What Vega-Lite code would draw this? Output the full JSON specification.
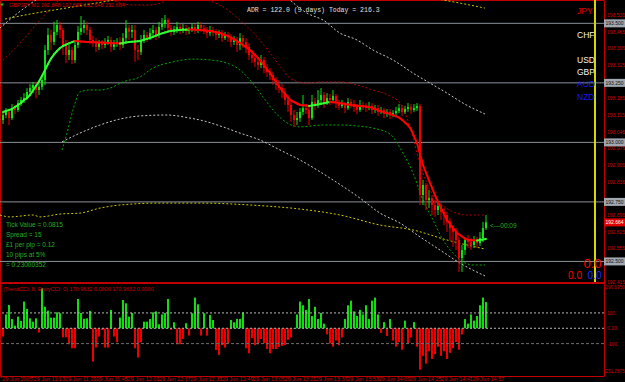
{
"$schema":"https://vega.github.io/schema/vega-lite/v6.json",
"width":604,"height":376,
"autosize":{"type":"none"},
"padding":{"left":0,"top":0,"right":21,"bottom":6},
"background":"#000000",
"config":{"view":{"stroke":"#c00000","strokeWidth":1},"axis":{"grid":false}},
"datasets":{
"bars":[
{"i":0,"o":193.094,"h":193.128,"l":193.077,"c":193.115,"m":193.1276,"k":-54},
{"i":1,"o":193.115,"h":193.144,"l":193.102,"c":193.128,"m":193.1318,"k":90},
{"i":2,"o":193.128,"h":193.136,"l":193.073,"c":193.102,"m":193.136,"k":152},
{"i":3,"o":193.102,"h":193.161,"l":193.094,"c":193.144,"m":193.1402,"k":60},
{"i":4,"o":193.144,"h":193.157,"l":193.119,"c":193.136,"m":193.1486,"k":17},
{"i":5,"o":193.136,"h":193.178,"l":193.128,"c":193.165,"m":193.157,"k":76},
{"i":6,"o":193.165,"h":193.191,"l":193.153,"c":193.178,"m":193.1654,"k":48},
{"i":7,"o":193.178,"h":193.207,"l":193.165,"c":193.186,"m":193.178,"k":174},
{"i":8,"o":193.186,"h":193.228,"l":193.178,"c":193.212,"m":193.1864,"k":126},
{"i":9,"o":193.212,"h":193.245,"l":193.199,"c":193.228,"m":193.199,"k":65},
{"i":10,"o":193.228,"h":193.254,"l":193.207,"c":193.241,"m":193.2179,"k":43},
{"i":11,"o":193.241,"h":193.254,"l":193.186,"c":193.220,"m":193.2368,"k":65},
{"i":12,"o":193.220,"h":193.245,"l":193.199,"c":193.233,"m":193.2557,"k":-28},
{"i":13,"o":193.233,"h":193.283,"l":193.220,"c":193.262,"m":193.2788,"k":260},
{"i":14,"o":193.262,"h":193.409,"l":193.241,"c":193.388,"m":193.304,"k":140},
{"i":15,"o":193.388,"h":193.480,"l":193.367,"c":193.451,"m":193.3292,"k":115},
{"i":16,"o":193.451,"h":193.472,"l":193.388,"c":193.422,"m":193.3519,"k":69},
{"i":17,"o":193.422,"h":193.506,"l":193.409,"c":193.464,"m":193.3695,"k":69},
{"i":18,"o":193.464,"h":193.514,"l":193.451,"c":193.493,"m":193.3838,"k":104},
{"i":19,"o":193.493,"h":193.506,"l":193.438,"c":193.472,"m":193.3964,"k":98},
{"i":20,"o":193.472,"h":193.480,"l":193.367,"c":193.409,"m":193.4048,"k":-59},
{"i":21,"o":193.409,"h":193.430,"l":193.333,"c":193.367,"m":193.4107,"k":-59},
{"i":22,"o":193.367,"h":193.409,"l":193.346,"c":193.388,"m":193.4157,"k":-104},
{"i":23,"o":193.388,"h":193.401,"l":193.329,"c":193.346,"m":193.4208,"k":-130},
{"i":24,"o":193.346,"h":193.430,"l":193.333,"c":193.409,"m":193.4258,"k":-130},
{"i":25,"o":193.409,"h":193.489,"l":193.396,"c":193.464,"m":193.425,"k":191},
{"i":26,"o":193.464,"h":193.531,"l":193.451,"c":193.480,"m":193.4237,"k":100},
{"i":27,"o":193.480,"h":193.514,"l":193.459,"c":193.493,"m":193.4229,"k":62},
{"i":28,"o":193.493,"h":193.506,"l":193.451,"c":193.472,"m":193.422,"k":65},
{"i":29,"o":193.472,"h":193.485,"l":193.413,"c":193.430,"m":193.4216,"k":113},
{"i":30,"o":193.430,"h":193.447,"l":193.401,"c":193.422,"m":193.4208,"k":-217},
{"i":31,"o":193.422,"h":193.438,"l":193.380,"c":193.401,"m":193.4203,"k":-126},
{"i":32,"o":193.401,"h":193.430,"l":193.388,"c":193.417,"m":193.4195,"k":-54},
{"i":33,"o":193.417,"h":193.430,"l":193.392,"c":193.409,"m":193.4191,"k":-11},
{"i":34,"o":193.409,"h":193.438,"l":193.396,"c":193.422,"m":193.4182,"k":-126},
{"i":35,"o":193.422,"h":193.447,"l":193.409,"c":193.430,"m":193.4178,"k":-126},
{"i":36,"o":193.430,"h":193.443,"l":193.380,"c":193.401,"m":193.4174,"k":119},
{"i":37,"o":193.401,"h":193.430,"l":193.388,"c":193.413,"m":193.4166,"k":-54},
{"i":38,"o":193.413,"h":193.438,"l":193.401,"c":193.422,"m":193.4161,"k":-91},
{"i":39,"o":193.422,"h":193.443,"l":193.388,"c":193.409,"m":193.4153,"k":70},
{"i":40,"o":193.409,"h":193.459,"l":193.396,"c":193.438,"m":193.4174,"k":184},
{"i":41,"o":193.438,"h":193.514,"l":193.422,"c":193.480,"m":193.4191,"k":163},
{"i":42,"o":193.480,"h":193.493,"l":193.430,"c":193.464,"m":193.4212,"k":76},
{"i":43,"o":193.464,"h":193.493,"l":193.438,"c":193.472,"m":193.4224,"k":100},
{"i":44,"o":193.472,"h":193.493,"l":193.338,"c":193.388,"m":193.4237,"k":-130},
{"i":45,"o":193.388,"h":193.409,"l":193.346,"c":193.380,"m":193.425,"k":-191},
{"i":46,"o":193.380,"h":193.451,"l":193.367,"c":193.430,"m":193.4271,"k":-91},
{"i":47,"o":193.430,"h":193.472,"l":193.417,"c":193.451,"m":193.4308,"k":43},
{"i":48,"o":193.451,"h":193.464,"l":193.422,"c":193.438,"m":193.4346,"k":43},
{"i":49,"o":193.438,"h":193.480,"l":193.430,"c":193.459,"m":193.4384,"k":60},
{"i":50,"o":193.459,"h":193.493,"l":193.443,"c":193.472,"m":193.4434,"k":104},
{"i":51,"o":193.472,"h":193.485,"l":193.430,"c":193.451,"m":193.4485,"k":110},
{"i":52,"o":193.451,"h":193.506,"l":193.438,"c":193.485,"m":193.4535,"k":26},
{"i":53,"o":193.485,"h":193.522,"l":193.472,"c":193.497,"m":193.4577,"k":90},
{"i":54,"o":193.497,"h":193.535,"l":193.480,"c":193.514,"m":193.4615,"k":100},
{"i":55,"o":193.514,"h":193.522,"l":193.464,"c":193.480,"m":193.4653,"k":191},
{"i":56,"o":193.480,"h":193.493,"l":193.447,"c":193.464,"m":193.4682,"k":-11},
{"i":57,"o":193.464,"h":193.489,"l":193.451,"c":193.472,"m":193.4695,"k":39},
{"i":58,"o":193.472,"h":193.506,"l":193.459,"c":193.485,"m":193.4707,"k":-104},
{"i":59,"o":193.485,"h":193.497,"l":193.455,"c":193.472,"m":193.472,"k":-104},
{"i":60,"o":193.472,"h":193.497,"l":193.459,"c":193.480,"m":193.4726,"k":-69},
{"i":61,"o":193.480,"h":193.493,"l":193.451,"c":193.468,"m":193.4733,"k":33},
{"i":62,"o":193.468,"h":193.485,"l":193.455,"c":193.472,"m":193.4739,"k":-48},
{"i":63,"o":193.472,"h":193.501,"l":193.464,"c":193.485,"m":193.4737,"k":98},
{"i":64,"o":193.485,"h":193.497,"l":193.455,"c":193.472,"m":193.473,"k":200},
{"i":65,"o":193.472,"h":193.506,"l":193.459,"c":193.493,"m":193.4724,"k":156},
{"i":66,"o":193.493,"h":193.506,"l":193.464,"c":193.480,"m":193.4716,"k":-48},
{"i":67,"o":193.480,"h":193.493,"l":193.455,"c":193.472,"m":193.4703,"k":98},
{"i":68,"o":193.472,"h":193.485,"l":193.438,"c":193.459,"m":193.4691,"k":-48},
{"i":69,"o":193.459,"h":193.489,"l":193.447,"c":193.472,"m":193.4678,"k":87},
{"i":70,"o":193.472,"h":193.485,"l":193.447,"c":193.464,"m":193.4653,"k":54},
{"i":71,"o":193.464,"h":193.476,"l":193.430,"c":193.451,"m":193.4628,"k":-141},
{"i":72,"o":193.451,"h":193.472,"l":193.438,"c":193.459,"m":193.4602,"k":-174},
{"i":73,"o":193.459,"h":193.472,"l":193.422,"c":193.438,"m":193.456,"k":-110},
{"i":74,"o":193.438,"h":193.464,"l":193.430,"c":193.451,"m":193.451,"k":-126},
{"i":75,"o":193.451,"h":193.464,"l":193.422,"c":193.443,"m":193.446,"k":-100},
{"i":76,"o":193.443,"h":193.455,"l":193.401,"c":193.422,"m":193.4401,"k":54},
{"i":77,"o":193.422,"h":193.447,"l":193.409,"c":193.430,"m":193.4325,"k":39},
{"i":78,"o":193.430,"h":193.443,"l":193.380,"c":193.409,"m":193.425,"k":61},
{"i":79,"o":193.409,"h":193.459,"l":193.388,"c":193.438,"m":193.4174,"k":61},
{"i":80,"o":193.438,"h":193.451,"l":193.396,"c":193.422,"m":193.4086,"k":104},
{"i":81,"o":193.422,"h":193.438,"l":193.375,"c":193.401,"m":193.3998,"k":-130},
{"i":82,"o":193.401,"h":193.417,"l":193.346,"c":193.367,"m":193.3909,"k":-163},
{"i":83,"o":193.367,"h":193.388,"l":193.333,"c":193.354,"m":193.3796,"k":-65},
{"i":84,"o":193.354,"h":193.375,"l":193.317,"c":193.338,"m":193.367,"k":-110},
{"i":85,"o":193.338,"h":193.359,"l":193.304,"c":193.325,"m":193.3544,"k":-104},
{"i":86,"o":193.325,"h":193.367,"l":193.312,"c":193.346,"m":193.3405,"k":-70},
{"i":87,"o":193.346,"h":193.359,"l":193.291,"c":193.312,"m":193.3242,"k":-98},
{"i":88,"o":193.312,"h":193.329,"l":193.275,"c":193.296,"m":193.3078,"k":-135},
{"i":89,"o":193.296,"h":193.312,"l":193.262,"c":193.283,"m":193.2914,"k":-163},
{"i":90,"o":193.283,"h":193.296,"l":193.241,"c":193.262,"m":193.2725,"k":-135},
{"i":91,"o":193.262,"h":193.275,"l":193.220,"c":193.241,"m":193.2536,"k":-135},
{"i":92,"o":193.241,"h":193.262,"l":193.207,"c":193.228,"m":193.2347,"k":-122},
{"i":93,"o":193.228,"h":193.245,"l":193.186,"c":193.212,"m":193.2183,"k":-115},
{"i":94,"o":193.212,"h":193.228,"l":193.157,"c":193.178,"m":193.2032,"k":-110},
{"i":95,"o":193.178,"h":193.199,"l":193.128,"c":193.157,"m":193.1881,"k":-76},
{"i":96,"o":193.157,"h":193.170,"l":193.086,"c":193.115,"m":193.1759,"k":-60},
{"i":97,"o":193.115,"h":193.136,"l":193.065,"c":193.094,"m":193.1696,"k":-5},
{"i":98,"o":193.094,"h":193.128,"l":193.073,"c":193.102,"m":193.1633,"k":90},
{"i":99,"o":193.102,"h":193.144,"l":193.086,"c":193.128,"m":193.157,"k":174},
{"i":100,"o":193.128,"h":193.199,"l":193.115,"c":193.144,"m":193.1557,"k":150},
{"i":101,"o":193.144,"h":193.161,"l":193.119,"c":193.136,"m":193.1545,"k":120},
{"i":102,"o":193.136,"h":193.157,"l":193.073,"c":193.102,"m":193.1532,"k":190},
{"i":103,"o":193.102,"h":193.199,"l":193.094,"c":193.170,"m":193.1545,"k":80},
{"i":104,"o":193.170,"h":193.186,"l":193.136,"c":193.157,"m":193.157,"k":140},
{"i":105,"o":193.157,"h":193.220,"l":193.144,"c":193.178,"m":193.1595,"k":60},
{"i":106,"o":193.178,"h":193.228,"l":193.165,"c":193.199,"m":193.162,"k":100},
{"i":107,"o":193.199,"h":193.212,"l":193.144,"c":193.170,"m":193.1646,"k":30},
{"i":108,"o":193.170,"h":193.207,"l":193.157,"c":193.186,"m":193.1671,"k":-40},
{"i":109,"o":193.186,"h":193.203,"l":193.157,"c":193.178,"m":193.1696,"k":-100},
{"i":110,"o":193.178,"h":193.220,"l":193.170,"c":193.195,"m":193.1683,"k":-120},
{"i":111,"o":193.195,"h":193.203,"l":193.144,"c":193.165,"m":193.1671,"k":-80},
{"i":112,"o":193.165,"h":193.178,"l":193.136,"c":193.153,"m":193.1658,"k":-110},
{"i":113,"o":193.153,"h":193.178,"l":193.144,"c":193.161,"m":193.1637,"k":-60},
{"i":114,"o":193.161,"h":193.170,"l":193.123,"c":193.144,"m":193.1612,"k":60},
{"i":115,"o":193.144,"h":193.186,"l":193.136,"c":193.170,"m":193.1587,"k":150},
{"i":116,"o":193.170,"h":193.182,"l":193.144,"c":193.161,"m":193.1566,"k":180},
{"i":117,"o":193.161,"h":193.178,"l":193.128,"c":193.149,"m":193.1553,"k":110},
{"i":118,"o":193.149,"h":193.161,"l":193.119,"c":193.136,"m":193.1541,"k":80},
{"i":119,"o":193.136,"h":193.178,"l":193.128,"c":193.157,"m":193.1528,"k":120},
{"i":120,"o":193.157,"h":193.170,"l":193.136,"c":193.149,"m":193.1515,"k":90},
{"i":121,"o":193.149,"h":193.165,"l":193.128,"c":193.144,"m":193.1503,"k":150},
{"i":122,"o":193.144,"h":193.170,"l":193.136,"c":193.153,"m":193.149,"k":60},
{"i":123,"o":193.153,"h":193.165,"l":193.119,"c":193.136,"m":193.1452,"k":180},
{"i":124,"o":193.136,"h":193.157,"l":193.123,"c":193.144,"m":193.1402,"k":200},
{"i":125,"o":193.144,"h":193.157,"l":193.111,"c":193.128,"m":193.1352,"k":90},
{"i":126,"o":193.128,"h":193.149,"l":193.119,"c":193.136,"m":193.1305,"k":-30},
{"i":127,"o":193.136,"h":193.144,"l":193.102,"c":193.119,"m":193.1268,"k":40},
{"i":128,"o":193.119,"h":193.140,"l":193.107,"c":193.128,"m":193.123,"k":-50},
{"i":129,"o":193.128,"h":193.140,"l":193.098,"c":193.115,"m":193.1192,"k":60},
{"i":130,"o":193.115,"h":193.136,"l":193.107,"c":193.123,"m":193.1142,"k":-80},
{"i":131,"o":193.123,"h":193.149,"l":193.111,"c":193.132,"m":193.1091,"k":-120},
{"i":132,"o":193.132,"h":193.161,"l":193.123,"c":193.144,"m":193.1041,"k":-90},
{"i":133,"o":193.144,"h":193.157,"l":193.111,"c":193.128,"m":193.0948,"k":-140},
{"i":134,"o":193.128,"h":193.153,"l":193.119,"c":193.140,"m":193.0835,"k":50},
{"i":135,"o":193.140,"h":193.165,"l":193.128,"c":193.149,"m":193.0722,"k":-100},
{"i":136,"o":193.149,"h":193.161,"l":193.119,"c":193.136,"m":193.0549,"k":-60},
{"i":137,"o":193.136,"h":193.161,"l":193.128,"c":193.144,"m":193.0264,"k":40},
{"i":138,"o":193.144,"h":193.165,"l":193.132,"c":193.153,"m":192.9974,"k":-120},
{"i":139,"o":193.153,"h":193.161,"l":192.737,"c":192.779,"m":192.9512,"k":-270},
{"i":140,"o":192.779,"h":192.842,"l":192.737,"c":192.821,"m":192.905,"k":-180},
{"i":141,"o":192.821,"h":192.829,"l":192.716,"c":192.758,"m":192.8727,"k":-230},
{"i":142,"o":192.758,"h":192.800,"l":192.724,"c":192.766,"m":192.8403,"k":-150},
{"i":143,"o":192.766,"h":192.779,"l":192.695,"c":192.737,"m":192.8088,"k":-200},
{"i":144,"o":192.737,"h":192.758,"l":192.687,"c":192.716,"m":192.7786,"k":-170},
{"i":145,"o":192.716,"h":192.750,"l":192.695,"c":192.733,"m":192.7496,"k":-120},
{"i":146,"o":192.733,"h":192.745,"l":192.674,"c":192.708,"m":192.7244,"k":-180},
{"i":147,"o":192.708,"h":192.724,"l":192.653,"c":192.695,"m":192.6992,"k":-150},
{"i":148,"o":192.695,"h":192.708,"l":192.624,"c":192.666,"m":192.674,"k":-200},
{"i":149,"o":192.666,"h":192.682,"l":192.590,"c":192.640,"m":192.6576,"k":-160},
{"i":150,"o":192.640,"h":192.653,"l":192.561,"c":192.624,"m":192.6412,"k":-130},
{"i":151,"o":192.624,"h":192.640,"l":192.548,"c":192.590,"m":192.6249,"k":-90},
{"i":152,"o":192.590,"h":192.603,"l":192.456,"c":192.514,"m":192.6135,"k":-140},
{"i":153,"o":192.514,"h":192.569,"l":192.456,"c":192.548,"m":192.6047,"k":-40},
{"i":154,"o":192.548,"h":192.603,"l":192.527,"c":192.590,"m":192.5959,"k":60},
{"i":155,"o":192.590,"h":192.611,"l":192.556,"c":192.582,"m":192.59,"k":30},
{"i":156,"o":192.582,"h":192.598,"l":192.548,"c":192.569,"m":192.5892,"k":90},
{"i":157,"o":192.569,"h":192.607,"l":192.556,"c":192.590,"m":192.5887,"k":50},
{"i":158,"o":192.590,"h":192.603,"l":192.556,"c":192.577,"m":192.5879,"k":80},
{"i":159,"o":192.577,"h":192.624,"l":192.565,"c":192.598,"m":192.59,"k":150},
{"i":160,"o":192.598,"h":192.666,"l":192.582,"c":192.640,"m":192.5921,"k":200},
{"i":161,"o":192.640,"h":192.695,"l":192.632,"c":192.664,"m":192.5942,"k":171}
],
"bands":[
{"s":"ru","i":-1,"v":193.333},{"s":"ru","i":5.67,"v":193.417},{"s":"ru","i":12.33,"v":193.514},{"s":"ru","i":18,"v":193.59},{"s":"ru","i":25.67,"v":193.661},{"s":"ru","i":32.33,"v":193.64},{"s":"ru","i":39,"v":193.585},{"s":"ru","i":44,"v":193.577},{"s":"ru","i":49,"v":193.577},{"s":"ru","i":52.33,"v":193.585},{"s":"ru","i":59,"v":193.619},{"s":"ru","i":65.67,"v":193.606},{"s":"ru","i":73.33,"v":193.569},{"s":"ru","i":79,"v":193.514},{"s":"ru","i":84.67,"v":193.443},{"s":"ru","i":90,"v":193.359},{"s":"ru","i":93.33,"v":193.304},{"s":"ru","i":95.67,"v":193.27},{"s":"ru","i":101.33,"v":193.249},{"s":"ru","i":106.67,"v":193.254},{"s":"ru","i":112.33,"v":193.254},{"s":"ru","i":118,"v":193.241},{"s":"ru","i":123.33,"v":193.22},{"s":"ru","i":129,"v":193.195},{"s":"ru","i":132.33,"v":193.165},{"s":"ru","i":135.67,"v":193.065},{"s":"ru","i":138,"v":192.955},{"s":"ru","i":140,"v":192.871},{"s":"ru","i":142.33,"v":192.8},{"s":"ru","i":145.67,"v":192.745},{"s":"ru","i":150,"v":192.708},{"s":"ru","i":154.67,"v":192.695},{"s":"ru","i":160.67,"v":192.695},
{"s":"gl","i":19.67,"v":192.968},{"s":"gl","i":21.33,"v":193.039},{"s":"gl","i":23.33,"v":193.136},{"s":"gl","i":25.67,"v":193.212},{"s":"gl","i":29,"v":193.22},{"s":"gl","i":32.33,"v":193.22},{"s":"gl","i":35.67,"v":193.228},{"s":"gl","i":40,"v":193.254},{"s":"gl","i":45.67,"v":193.275},{"s":"gl","i":50,"v":193.312},{"s":"gl","i":56.67,"v":193.338},{"s":"gl","i":63.33,"v":193.35},{"s":"gl","i":69,"v":193.346},{"s":"gl","i":73.33,"v":193.338},{"s":"gl","i":79,"v":193.304},{"s":"gl","i":82.33,"v":193.262},{"s":"gl","i":86.67,"v":193.191},{"s":"gl","i":90,"v":193.136},{"s":"gl","i":93.33,"v":193.094},{"s":"gl","i":99,"v":193.065},{"s":"gl","i":106.67,"v":193.073},{"s":"gl","i":112.33,"v":193.073},{"s":"gl","i":118,"v":193.069},{"s":"gl","i":123.33,"v":193.06},{"s":"gl","i":129,"v":193.035},{"s":"gl","i":133.33,"v":192.955},{"s":"gl","i":136.67,"v":192.871},{"s":"gl","i":140,"v":192.758},{"s":"gl","i":143.33,"v":192.674},{"s":"gl","i":146.67,"v":192.59},{"s":"gl","i":150,"v":192.535},{"s":"gl","i":153.33,"v":192.498},{"s":"gl","i":156.67,"v":192.485},{"s":"gl","i":160.67,"v":192.485},
{"s":"wu","i":-1,"v":193.48},{"s":"wu","i":3.33,"v":193.527},{"s":"wu","i":10,"v":193.59},{"s":"wu","i":19,"v":193.661},{"s":"wu","i":49,"v":193.766},{"s":"wu","i":89,"v":193.682},{"s":"wu","i":95.67,"v":193.598},{"s":"wu","i":101.33,"v":193.543},{"s":"wu","i":106.67,"v":193.514},{"s":"wu","i":112.33,"v":193.459},{"s":"wu","i":118,"v":193.43},{"s":"wu","i":123.33,"v":193.388},{"s":"wu","i":130,"v":193.346},{"s":"wu","i":136.67,"v":193.291},{"s":"wu","i":142.33,"v":193.249},{"s":"wu","i":148,"v":193.207},{"s":"wu","i":153.33,"v":193.165},{"s":"wu","i":160.67,"v":193.119},
{"s":"wl","i":19.67,"v":193.002},{"s":"wl","i":25.67,"v":193.039},{"s":"wl","i":32.33,"v":193.073},{"s":"wl","i":39,"v":193.098},{"s":"wl","i":45.67,"v":193.111},{"s":"wl","i":54.67,"v":193.115},{"s":"wl","i":62.33,"v":193.102},{"s":"wl","i":65.67,"v":193.094},{"s":"wl","i":73.33,"v":193.065},{"s":"wl","i":79,"v":193.039},{"s":"wl","i":85.67,"v":193.01},{"s":"wl","i":92.33,"v":192.968},{"s":"wl","i":99,"v":192.926},{"s":"wl","i":109,"v":192.85},{"s":"wl","i":119,"v":192.766},{"s":"wl","i":125.67,"v":192.703},{"s":"wl","i":132.33,"v":192.661},{"s":"wl","i":139,"v":192.603},{"s":"wl","i":145.67,"v":192.548},{"s":"wl","i":152.33,"v":192.493},{"s":"wl","i":160.67,"v":192.439},
{"s":"yu","i":0.67,"v":193.518},{"s":"yu","i":9,"v":193.539},{"s":"yu","i":19,"v":193.56},{"s":"yu","i":33.33,"v":193.59},{"s":"yu","i":65.67,"v":193.661},{"s":"yu","i":115.67,"v":193.661},{"s":"yu","i":146.67,"v":193.598},{"s":"yu","i":152.33,"v":193.585},{"s":"yu","i":160.67,"v":193.564},
{"s":"yl","i":-1,"v":192.695},{"s":"yl","i":2.33,"v":192.687},{"s":"yl","i":10,"v":192.695},{"s":"yl","i":12.33,"v":192.687},{"s":"yl","i":19,"v":192.699},{"s":"yl","i":25.67,"v":192.703},{"s":"yl","i":32.33,"v":192.724},{"s":"yl","i":39,"v":192.737},{"s":"yl","i":52.33,"v":192.745},{"s":"yl","i":65.67,"v":192.745},{"s":"yl","i":82.33,"v":192.737},{"s":"yl","i":99,"v":192.72},{"s":"yl","i":112.33,"v":192.695},{"s":"yl","i":125.67,"v":192.653},{"s":"yl","i":136.67,"v":192.632},{"s":"yl","i":148,"v":192.59},{"s":"yl","i":160.67,"v":192.552}
],
"plabels":[
{"v":193.535,"t":"193.535"},{"v":193.465,"t":"193.465"},{"v":193.395,"t":"193.395"},{"v":193.325,"t":"193.325"},{"v":193.185,"t":"193.185"},{"v":193.115,"t":"193.115"},{"v":193.045,"t":"193.045"},{"v":192.975,"t":"192.975"},{"v":192.905,"t":"192.905"},{"v":192.835,"t":"192.835"},{"v":192.695,"t":"192.695"},{"v":192.625,"t":"192.625"},{"v":192.555,"t":"192.555"},{"v":192.415,"t":"192.415"}
],
"tlabels":[
{"i":-0.6,"t":"29 Jun 2005"},{"i":9.85,"t":"29 Jun 11:13"},{"i":20.3,"t":"29 Jun 11:29"},{"i":30.75,"t":"29 Jun 11:45"},{"i":41.2,"t":"29 Jun 12:01"},{"i":51.65,"t":"29 Jun 12:17"},{"i":62.1,"t":"29 Jun 12:33"},{"i":72.55,"t":"29 Jun 12:49"},{"i":83,"t":"29 Jun 13:05"},{"i":93.45,"t":"29 Jun 13:21"},{"i":103.9,"t":"29 Jun 13:37"},{"i":114.35,"t":"29 Jun 13:53"},{"i":124.8,"t":"29 Jun 14:09"},{"i":135.25,"t":"29 Jun 14:25"},{"i":145.7,"t":"29 Jun 14:41"},{"i":156.15,"t":"29 Jun 14:57"}
]
},
"layer":[
{"layer":[
{"data":{"values":[{"v":193.5},{"v":193.25},{"v":193.0},{"v":192.75},{"v":192.5}]},
 "mark":{"type":"rule","color":"#8a9099","strokeWidth":1},
 "encoding":{"y":{"field":"v","type":"quantitative","scale":{"domain":[192.0188,193.598],"nice":false},"axis":null}}},
{"data":{"name":"bands"},
 "mark":{"type":"line","strokeDash":[2,2],"strokeWidth":1,"clip":true,"interpolate":"monotone"},
 "encoding":{"x":{"field":"i","type":"quantitative","scale":{"domain":[-1,200.333],"nice":false},"axis":null},
  "y":{"field":"v","type":"quantitative","scale":{"domain":[192.0188,193.598],"nice":false},"axis":null},
  "color":{"field":"s","type":"nominal","scale":{"domain":["ru","gl","wu","wl","yu","yl"],"range":["#b00000","#00a800","#c8c8c8","#c8c8c8","#c8c800","#c8c800"]},"legend":null}}},
{"data":{"name":"bars"},
 "mark":{"type":"rule","strokeWidth":1},
 "encoding":{"x":{"field":"i","type":"quantitative","scale":{"domain":[-1,200.333],"nice":false},"axis":null},
  "y":{"field":"l","type":"quantitative","scale":{"domain":[192.0188,193.598],"nice":false},"axis":null},
  "y2":{"field":"h"},
  "color":{"condition":{"test":"datum.c >= datum.o","value":"#11e011"},"value":"#f00000"}}},
{"data":{"name":"bars"},
 "mark":{"type":"rule","strokeWidth":2},
 "encoding":{"x":{"field":"i","type":"quantitative","scale":{"domain":[-1,200.333],"nice":false},"axis":null},
  "y":{"field":"o","type":"quantitative","scale":{"domain":[192.0188,193.598],"nice":false},"axis":null},
  "y2":{"field":"c"},
  "color":{"condition":{"test":"datum.c >= datum.o","value":"#11e011"},"value":"#f00000"}}},
{"data":{"name":"bars"},
 "transform":[{"window":[{"op":"lead","field":"m","as":"mn"},{"op":"lead","field":"i","as":"in"}],"sort":[{"field":"i","order":"ascending"}]},{"filter":"datum.mn != null"}],
 "mark":{"type":"rule","strokeWidth":2,"strokeCap":"round"},
 "encoding":{"x":{"field":"i","type":"quantitative","scale":{"domain":[-1,200.333],"nice":false},"axis":null},
  "x2":{"field":"in"},
  "y":{"field":"m","type":"quantitative","scale":{"domain":[192.0188,193.598],"nice":false},"axis":null},
  "y2":{"field":"mn"},
  "color":{"condition":{"test":"datum.mn >= datum.m","value":"#33ff33"},"value":"#ff0000"}}},
{"data":{"values":[{}]},
 "mark":{"type":"rule","color":"#d8d800","strokeWidth":2},
 "encoding":{"x":{"datum":197.33,"type":"quantitative","scale":{"domain":[-1,200.333],"nice":false},"axis":null},
  "y":{"datum":193.598,"type":"quantitative","scale":{"domain":[192.0188,193.598],"nice":false},"axis":null},
  "y2":{"datum":192.41}}},
{"data":{"values":[{}]},
 "mark":{"type":"rule","color":"#c00000","strokeWidth":2},
 "encoding":{"y":{"datum":192.4094,"type":"quantitative","scale":{"domain":[192.0188,193.598],"nice":false},"axis":null}}},
{"data":{"name":"plabels"},
 "layer":[
  {"mark":{"type":"rule","color":"#c00000","strokeWidth":1},
   "encoding":{"x":{"datum":200.333,"type":"quantitative","scale":{"domain":[-1,200.333],"nice":false},"axis":null},
    "x2":{"datum":201.0},
    "y":{"field":"v","type":"quantitative","scale":{"domain":[192.0188,193.598],"nice":false},"axis":null}}},
  {"mark":{"type":"text","align":"left","baseline":"middle","font":"Liberation Sans","fontSize":5,"color":"#d00000"},
   "encoding":{"x":{"datum":201.33,"type":"quantitative","scale":{"domain":[-1,200.333],"nice":false},"axis":null},
    "y":{"field":"v","type":"quantitative","scale":{"domain":[192.0188,193.598],"nice":false},"axis":null},
    "text":{"field":"t"}}}
 ]},
{"data":{"values":[{"v":193.5,"t":"193.500"},{"v":193.25,"t":"193.250"},{"v":193.0,"t":"193.000"},{"v":192.75,"t":"192.750"},{"v":192.5,"t":"192.500"}]},
 "layer":[
  {"mark":{"type":"tick","orient":"horizontal","thickness":8,"size":21,"color":"#a2a8b0","opacity":1},
   "encoding":{"x":{"datum":203.83,"type":"quantitative","scale":{"domain":[-1,200.333],"nice":false},"axis":null},
    "y":{"field":"v","type":"quantitative","scale":{"domain":[192.0188,193.598],"nice":false},"axis":null}}},
  {"mark":{"type":"text","align":"left","baseline":"middle","font":"Liberation Sans","fontSize":5,"color":"#101010"},
   "encoding":{"x":{"datum":200.8,"type":"quantitative","scale":{"domain":[-1,200.333],"nice":false},"axis":null},
    "y":{"field":"v","type":"quantitative","scale":{"domain":[192.0188,193.598],"nice":false},"axis":null},
    "text":{"field":"t"}}}
 ]},
{"data":{"values":[{"v":192.664,"t":"192.664"}]},
 "layer":[
  {"mark":{"type":"tick","orient":"horizontal","thickness":8,"size":21,"color":"#e00000","opacity":1},
   "encoding":{"x":{"datum":203.83,"type":"quantitative","scale":{"domain":[-1,200.333],"nice":false},"axis":null},
    "y":{"field":"v","type":"quantitative","scale":{"domain":[192.0188,193.598],"nice":false},"axis":null}}},
  {"mark":{"type":"text","align":"left","baseline":"middle","font":"Liberation Sans","fontSize":5,"color":"#ffffff"},
   "encoding":{"x":{"datum":200.8,"type":"quantitative","scale":{"domain":[-1,200.333],"nice":false},"axis":null},
    "y":{"field":"v","type":"quantitative","scale":{"domain":[192.0188,193.598],"nice":false},"axis":null},
    "text":{"field":"t"}}}
 ]},
{"data":{"values":[{"t":"JPY","v":193.552}]},
 "mark":{"type":"text","align":"left","baseline":"middle","font":"Liberation Sans","fontSize":8.5,"fill":"#e00000"},
 "encoding":{"x":{"datum":191.33,"type":"quantitative","scale":{"domain":[-1,200.333],"nice":false},"axis":null},
  "y":{"field":"v","type":"quantitative","scale":{"domain":[192.0188,193.598],"nice":false},"axis":null},
  "text":{"field":"t"}}},
{"data":{"values":[{"t":"CHF","v":193.451},{"t":"USD","v":193.346},{"t":"GBP","v":193.296}]},
 "mark":{"type":"text","align":"left","baseline":"middle","font":"Liberation Sans","fontSize":8.5,"fill":"#f4f4f4"},
 "encoding":{"x":{"datum":191.33,"type":"quantitative","scale":{"domain":[-1,200.333],"nice":false},"axis":null},
  "y":{"field":"v","type":"quantitative","scale":{"domain":[192.0188,193.598],"nice":false},"axis":null},
  "text":{"field":"t"}}},
{"data":{"values":[{"t":"AUD","v":193.245},{"t":"NZD","v":193.191}]},
 "mark":{"type":"text","align":"left","baseline":"middle","font":"Liberation Sans","fontSize":8.5,"fill":"#1018ff"},
 "encoding":{"x":{"datum":191.33,"type":"quantitative","scale":{"domain":[-1,200.333],"nice":false},"axis":null},
  "y":{"field":"v","type":"quantitative","scale":{"domain":[192.0188,193.598],"nice":false},"axis":null},
  "text":{"field":"t"}}},
{"data":{"values":[{"t":"Tick Value = 0.0815","v":192.653},{"t":"Spread = 15","v":192.611},{"t":"£1 per pip = 0.12","v":192.569},{"t":"10 pips at 5%","v":192.527},{"t":"= 0.23000352","v":192.485}]},
 "mark":{"type":"text","align":"left","baseline":"middle","font":"Liberation Sans","fontSize":6.5,"color":"#22b022"},
 "encoding":{"x":{"datum":1,"type":"quantitative","scale":{"domain":[-1,200.333],"nice":false},"axis":null},
  "y":{"field":"v","type":"quantitative","scale":{"domain":[192.0188,193.598],"nice":false},"axis":null},
  "text":{"field":"t"}}},
{"data":{"values":[{"t":"<---00:09"}]},
 "mark":{"type":"text","align":"left","baseline":"middle","font":"Liberation Sans","fontSize":6.5,"color":"#22b022"},
 "encoding":{"x":{"datum":162.33,"type":"quantitative","scale":{"domain":[-1,200.333],"nice":false},"axis":null},
  "y":{"datum":192.649,"type":"quantitative","scale":{"domain":[192.0188,193.598],"nice":false},"axis":null},
  "text":{"field":"t"}}},
{"data":{"values":[{"t":"GBPJPY,M1  192.648 192.685 192.648 192.664"}]},
 "mark":{"type":"text","align":"left","baseline":"middle","font":"Liberation Sans","fontSize":5.5,"color":"#d00000"},
 "encoding":{"x":{"datum":2,"type":"quantitative","scale":{"domain":[-1,200.333],"nice":false},"axis":null},
  "y":{"datum":193.577,"type":"quantitative","scale":{"domain":[192.0188,193.598],"nice":false},"axis":null},
  "text":{"field":"t"}}},
{"data":{"values":[{}]},
 "mark":{"type":"point","shape":"triangle-down","filled":true,"size":14,"color":"#22c022","opacity":1},
 "encoding":{"x":{"datum":-0.33,"type":"quantitative","scale":{"domain":[-1,200.333],"nice":false},"axis":null},
  "y":{"datum":193.577,"type":"quantitative","scale":{"domain":[192.0188,193.598],"nice":false},"axis":null}}},
{"data":{"values":[{"t":"ADR = 122.0  (5 days)     Today = 216.3"}]},
 "mark":{"type":"text","align":"left","baseline":"middle","font":"Liberation Mono","fontSize":6.5,"color":"#e0e0e0"},
 "encoding":{"x":{"datum":81.33,"type":"quantitative","scale":{"domain":[-1,200.333],"nice":false},"axis":null},
  "y":{"datum":193.556,"type":"quantitative","scale":{"domain":[192.0188,193.598],"nice":false},"axis":null},
  "text":{"field":"t"}}},
{"data":{"values":[{"t":"0.0"}]},
 "mark":{"type":"text","align":"center","baseline":"middle","font":"Liberation Sans","fontSize":13,"color":"#ff0000"},
 "encoding":{"x":{"datum":196.5,"type":"quantitative","scale":{"domain":[-1,200.333],"nice":false},"axis":null},
  "y":{"datum":192.489,"type":"quantitative","scale":{"domain":[192.0188,193.598],"nice":false},"axis":null},
  "text":{"field":"t"}}},
{"data":{"values":[{"t":"0.0"}]},
 "mark":{"type":"text","align":"center","baseline":"middle","font":"Liberation Sans","fontSize":10,"color":"#ff0000"},
 "encoding":{"x":{"datum":190.67,"type":"quantitative","scale":{"domain":[-1,200.333],"nice":false},"axis":null},
  "y":{"datum":192.437,"type":"quantitative","scale":{"domain":[192.0188,193.598],"nice":false},"axis":null},
  "text":{"field":"t"}}},
{"data":{"values":[{"t":"0.0"}]},
 "mark":{"type":"text","align":"center","baseline":"middle","font":"Liberation Sans","fontSize":10,"color":"#2030ff"},
 "encoding":{"x":{"datum":197.17,"type":"quantitative","scale":{"domain":[-1,200.333],"nice":false},"axis":null},
  "y":{"datum":192.437,"type":"quantitative","scale":{"domain":[192.0188,193.598],"nice":false},"axis":null},
  "text":{"field":"t"}}}
]},
{"layer":[
{"data":{"name":"bars"},
 "mark":{"type":"rule","strokeWidth":2},
 "encoding":{"x":{"field":"i","type":"quantitative","scale":{"domain":[-1,200.333],"nice":false},"axis":null},
  "y":{"field":"k","type":"quantitative","scale":{"domain":[-311,2139],"nice":false},"axis":null},
  "y2":{"datum":0},
  "color":{"condition":{"test":"datum.k >= 0","value":"#11dd11"},"value":"#ee0000"}}},
{"data":{"values":[{"v":100},{"v":0}]},
 "mark":{"type":"rule","color":"#b8b8b8","strokeWidth":1,"strokeDash":[2,2]},
 "encoding":{"y":{"field":"v","type":"quantitative","scale":{"domain":[-311,2139],"nice":false},"axis":null}}},
{"data":{"values":[{"v":-100}]},
 "mark":{"type":"rule","color":"#707070","strokeWidth":1,"strokeDash":[3,2]},
 "encoding":{"y":{"field":"v","type":"quantitative","scale":{"domain":[-311,2139],"nice":false},"axis":null}}},
{"data":{"values":[{"t":"(TrendCCI: 8, EntryCCI: 0)  170.9632 0.0000 170.9632 0.0000"}]},
 "mark":{"type":"text","align":"left","baseline":"middle","font":"Liberation Sans","fontSize":5.5,"color":"#d00000"},
 "encoding":{"x":{"datum":0,"type":"quantitative","scale":{"domain":[-1,200.333],"nice":false},"axis":null},
  "y":{"datum":256,"type":"quantitative","scale":{"domain":[-311,2139],"nice":false},"axis":null},
  "text":{"field":"t"}}},
{"data":{"values":[{"v":100,"t":"100"},{"v":0,"t":"0.00"},{"v":-100,"t":"-100"}]},
 "mark":{"type":"text","align":"left","baseline":"middle","font":"Liberation Sans","fontSize":5,"color":"#d00000"},
 "encoding":{"x":{"datum":201.33,"type":"quantitative","scale":{"domain":[-1,200.333],"nice":false},"axis":null},
  "y":{"field":"v","type":"quantitative","scale":{"domain":[-311,2139],"nice":false},"axis":null},
  "text":{"field":"t"}}},
{"data":{"values":[{"v":262,"t":"290.6950"},{"v":-285,"t":"-251.2875"}]},
 "mark":{"type":"text","align":"right","baseline":"middle","font":"Liberation Sans","fontSize":4.6,"color":"#d00000"},
 "encoding":{"x":{"datum":207.2,"type":"quantitative","scale":{"domain":[-1,200.333],"nice":false},"axis":null},
  "y":{"field":"v","type":"quantitative","scale":{"domain":[-311,2139],"nice":false},"axis":null},
  "text":{"field":"t"}}},
{"data":{"name":"tlabels"},
 "layer":[
  {"mark":{"type":"rule","color":"#c00000","strokeWidth":1},
   "encoding":{"x":{"field":"i","type":"quantitative","scale":{"domain":[-1,200.333],"nice":false},"axis":null},
    "y":{"datum":-311,"type":"quantitative","scale":{"domain":[-311,2139],"nice":false},"axis":null},
    "y2":{"datum":-324}}},
  {"mark":{"type":"text","align":"left","baseline":"top","font":"Liberation Sans","fontSize":5.5,"color":"#d00000","dx":1},
   "encoding":{"x":{"field":"i","type":"quantitative","scale":{"domain":[-1,200.333],"nice":false},"axis":null},
    "y":{"datum":-318,"type":"quantitative","scale":{"domain":[-311,2139],"nice":false},"axis":null},
    "text":{"field":"t"}}}
 ]}
]}
],
"resolve":{"scale":{"y":"independent"}}
}
